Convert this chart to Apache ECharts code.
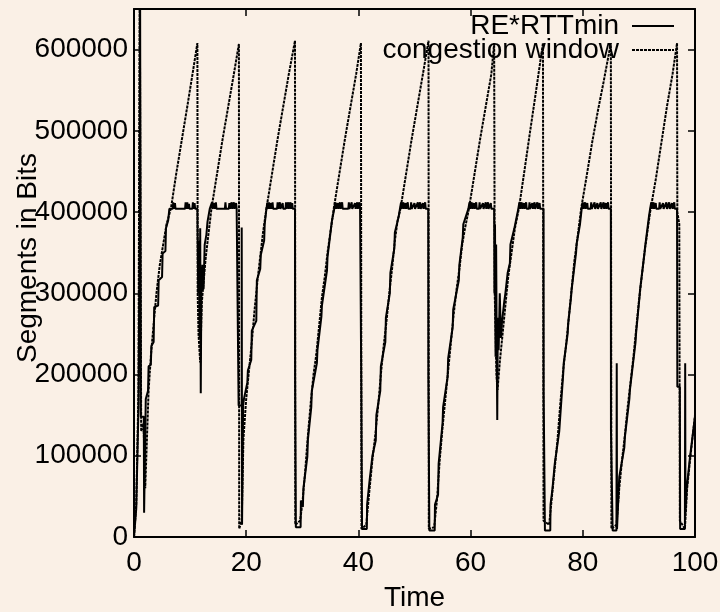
<!DOCTYPE html>
<html>
<head>
<meta charset="utf-8">
<script src="https://cdn.jsdelivr.net/npm/echarts@6/dist/echarts.min.js"></script>
<style>
html,body{margin:0;padding:0;background:#faf0e6;}
#chart{width:720px;height:612px;}
</style>
</head>
<body>
<div id="chart"></div>
<script>
// ---- data ----
const seriesNames = ['RE*RTTmin', 'congestion window'];
const xTicks = [0, 20, 40, 60, 80, 100];
const yTicks = [0, 100000, 200000, 300000, 400000, 500000, 600000];

// RE*RTTmin : [time, bits]
const reRttMin = [
[0,0],[0.4,35000],[0.8,160000],[1.0,380000],[1.08,700000],[1.16,700000],[1.22,148000],[1.75,148000],[1.8,30000],[2.05,30000],[2.1,170000],[2.5,180000],[2.6,210000],[3.0,212000],[3.1,235000],[3.5,240000],[3.6,283000],[4.3,285000],[4.4,316000],[5.0,320000],[5.1,349000],[5.6,352000],[5.7,380000],[6.1,390000],[6.3,404000],
[6.9,404000],[7.0,412000],[7.1,404000],[7.3,411000],[7.4,404000],[9.1,404000],[9.2,412000],[9.3,404000],[9.5,412000],[9.6,404000],[9.8,410000],[9.9,404000],[10.4,404000],[10.5,412000],[10.6,404000],[10.8,411000],[10.9,404000],[11.3,404000],
[11.32,385000],[11.45,300000],[11.55,365000],[11.7,245000],[11.8,380000],[11.9,177000],[12.0,300000],[12.2,335000],[12.4,305000],[12.6,360000],[12.9,372000],[13.1,388000],[13.5,404000],
[13.8,404000],[13.9,412000],[14.0,404000],[14.3,411000],[14.4,404000],[14.6,412000],[14.7,404000],[16.2,404000],[16.3,412000],[16.4,404000],[16.9,404000],[17.0,411000],[17.1,404000],[17.4,412000],[17.5,404000],[17.8,412000],[17.9,404000],[18.2,411000],[18.3,404000],[18.65,404000],
[18.65,162000],[19.2,162000],[19.2,381000],[19.23,381000],[19.26,15000],[19.4,15000],[19.45,162000],[19.6,170000],[20.2,190000],[20.3,205000],[20.9,218000],[21.0,254000],[21.8,266000],[21.9,316000],[22.5,330000],[22.6,347000],[23.2,365000],[23.3,385000],[23.6,404000],
[23.8,412000],[23.9,404000],[24.1,412000],[24.2,404000],[24.4,411000],[24.5,404000],[24.7,412000],[24.8,404000],[25.5,404000],[25.6,412000],[25.7,404000],[26.0,412000],[26.1,404000],[26.5,411000],[26.6,404000],[27.0,404000],[27.1,412000],[27.2,404000],[27.5,412000],[27.6,404000],[27.9,412000],[28.0,404000],[28.2,411000],[28.3,404000],[28.7,404000],
[28.72,197000],[28.8,197000],[28.85,12000],[29.7,12000],[29.75,45000],[30.1,37000],[30.2,60000],[30.9,99000],[31.0,120000],[31.6,160000],[31.7,180000],[32.6,214000],[32.7,230000],[33.4,271000],[33.5,285000],[34.4,328000],[34.5,345000],[35.3,390000],[35.7,404000],
[35.9,412000],[36.0,404000],[36.3,411000],[36.4,404000],[36.7,412000],[36.8,404000],[37.1,412000],[37.2,404000],[38.2,404000],[38.3,412000],[38.4,404000],[38.8,412000],[38.9,404000],[39.4,411000],[39.5,404000],[39.8,412000],[39.9,404000],[40.2,412000],[40.3,404000],[40.5,404000],
[40.52,181000],[40.6,181000],[40.65,10000],[41.5,10000],[41.55,40000],[42.0,70000],[42.5,100000],[43.1,119000],[43.2,150000],[43.9,180000],[44.0,210000],[44.8,240000],[44.9,270000],[45.6,300000],[45.7,325000],[46.4,355000],[46.5,375000],[47.2,395000],[47.4,404000],
[47.6,412000],[47.7,404000],[48.0,412000],[48.1,404000],[48.4,411000],[48.5,404000],[48.8,412000],[48.9,404000],[49.3,404000],[49.4,412000],[49.5,404000],[50.0,411000],[50.1,404000],[50.6,412000],[50.7,404000],[51.0,412000],[51.1,404000],[51.5,411000],[51.6,404000],[51.9,412000],[52.0,404000],[52.45,404000],
[52.47,197000],[52.6,197000],[52.65,8000],[53.6,8000],[53.65,40000],[54.2,52000],[54.3,90000],[55.0,140000],[55.1,160000],[55.9,197000],[56.0,220000],[56.8,258000],[56.9,280000],[57.9,316000],[58.0,335000],[58.6,369000],[58.7,385000],[59.6,404000],
[59.8,412000],[59.9,404000],[60.2,412000],[60.3,404000],[60.6,411000],[60.7,404000],[61.0,412000],[61.1,404000],[61.5,404000],[61.6,412000],[61.7,404000],[62.2,411000],[62.3,404000],[62.7,412000],[62.8,404000],[63.1,412000],[63.2,404000],[63.6,411000],[63.7,404000],[64.2,404000],
[64.25,300000],[64.35,385000],[64.45,222000],[64.55,360000],[64.65,240000],[64.75,144000],[64.85,270000],[65.0,230000],[65.2,300000],[65.4,245000],[65.6,265000],[66.0,290000],[66.2,300000],[66.6,325000],[67.0,337000],[67.1,360000],[67.8,380000],[68.5,404000],
[68.7,412000],[68.8,404000],[69.1,412000],[69.2,404000],[69.5,411000],[69.6,404000],[69.9,412000],[70.0,404000],[70.4,404000],[70.5,412000],[70.6,404000],[71.0,411000],[71.1,404000],[71.4,412000],[71.5,404000],[71.9,412000],[72.0,404000],[72.3,411000],[72.4,404000],[73.0,404000],
[73.02,177000],[73.2,177000],[73.25,8000],[74.2,8000],[74.25,40000],[74.6,60000],[75.0,90000],[75.8,130000],[75.9,140000],[76.5,200000],[76.6,214000],[77.3,250000],[77.4,263000],[77.9,295000],[78.0,304000],[78.8,350000],[78.9,361000],[79.5,385000],[79.8,404000],
[80.0,412000],[80.1,404000],[80.4,412000],[80.5,404000],[80.8,411000],[80.9,404000],[81.4,404000],[81.5,412000],[81.6,404000],[82.1,412000],[82.2,404000],[82.6,411000],[82.7,404000],[83.2,412000],[83.3,404000],[83.7,412000],[83.8,404000],[84.1,411000],[84.2,404000],[84.5,412000],[84.6,404000],[85.0,404000],
[85.02,131000],[85.3,131000],[85.32,8000],[86.0,8000],[86.05,214000],[86.1,10000],[86.5,74000],[87.4,110000],[87.5,123000],[88.3,170000],[88.4,181000],[89.4,240000],[89.5,251000],[90.1,295000],[90.2,304000],[91.0,350000],[91.1,357000],[91.8,395000],[92.0,404000],
[92.2,412000],[92.3,404000],[92.6,412000],[92.7,404000],[93.0,411000],[93.1,404000],[93.6,404000],[93.7,412000],[93.8,404000],[94.3,411000],[94.4,404000],[94.9,412000],[95.0,404000],[95.4,412000],[95.5,404000],[95.9,411000],[96.0,404000],[96.3,412000],[96.4,404000],[96.8,404000],
[96.85,185000],[97.3,185000],[97.35,10000],[98.2,10000],[98.25,214000],[98.3,30000],[98.5,58000],[99.1,98000],[100,148000]
];

// congestion window : [time, bits]
const congestionWindow = [
[0,0],[0.4,40000],[0.8,180000],[1.02,700000],[1.18,700000],[1.28,130000],[1.7,140000],[2.0,60000],[2.3,120000],[2.6,180000],[3.0,222000],[3.5,262000],[4.0,300000],[4.6,335000],[5.2,360000],[5.8,385000],[6.6,405000],[7.5,446000],[8.5,488000],[9.5,530000],[10.5,573000],[11.3,608000],
[11.35,300000],[11.5,250000],[11.8,215000],[12.1,290000],[12.8,345000],[13.8,404000],[14.8,447000],[15.8,490000],[16.8,530000],[17.8,570000],[18.7,607000],
[18.75,10000],[19.2,20000],[19.5,120000],[20.0,170000],[20.5,205000],[21.0,240000],[21.5,280000],[22.0,315000],[22.5,345000],[23.0,375000],[23.6,404000],[24.6,447000],[25.6,490000],[26.6,530000],[27.6,570000],[28.7,611000],
[28.75,15000],[29.6,20000],[30.0,40000],[30.5,80000],[31.0,125000],[31.5,165000],[32.0,200000],[32.5,225000],[33.0,260000],[33.5,295000],[34.0,320000],[34.5,350000],[35.0,375000],[35.6,404000],[36.6,447000],[37.6,490000],[38.6,530000],[39.6,570000],[40.45,608000],
[40.55,10000],[41.4,15000],[42.0,60000],[42.5,95000],[43.0,125000],[43.5,160000],[44.0,200000],[44.5,235000],[45.0,265000],[45.5,300000],[46.0,330000],[46.5,365000],[47.0,390000],[47.5,404000],[48.5,447000],[49.5,490000],[50.5,530000],[51.5,570000],[52.5,611000],
[52.55,10000],[53.5,12000],[54.0,45000],[54.5,95000],[55.0,135000],[55.5,170000],[56.0,205000],[56.5,240000],[57.0,275000],[57.5,305000],[58.0,330000],[58.5,360000],[59.0,380000],[59.7,404000],[60.7,447000],[61.7,490000],[62.7,530000],[63.7,570000],[64.2,608000],
[64.3,300000],[64.6,200000],[64.8,181000],[65.2,215000],[65.7,250000],[66.2,285000],[66.7,320000],[67.3,350000],[67.9,380000],[68.6,404000],[69.6,451000],[70.6,499000],[71.6,546000],[72.9,608000],
[73.0,20000],[74.0,15000],[74.5,50000],[75.0,85000],[75.5,120000],[76.0,165000],[76.5,205000],[77.0,235000],[77.5,270000],[78.0,305000],[78.5,340000],[79.0,365000],[79.7,404000],[80.7,445000],[81.7,487000],[82.7,525000],[83.7,560000],[85.0,608000],
[85.1,10000],[86.0,15000],[86.5,60000],[87.0,95000],[87.5,125000],[88.0,160000],[88.5,190000],[89.0,220000],[89.5,255000],[90.0,290000],[90.5,320000],[91.0,350000],[91.5,375000],[92.0,400000],[93.0,440000],[94.0,485000],[95.0,530000],[96.0,570000],[96.8,608000],
[96.85,400000],[97.2,385000],[97.3,20000],[98.2,10000],[98.6,60000],[99.2,100000],[100,150000]
];

// ---- chart ----
const FONT = "'Liberation Sans', Arial, sans-serif";
const chart = echarts.init(document.getElementById('chart'), null, {renderer: 'canvas'});
const lineAxis = {show: true, onZero: false, lineStyle: {color: '#000', width: 2}};
const tickIn = {show: true, inside: true, length: 7, lineStyle: {color: '#000', width: 1.5}};
const txt = {fontSize: 28, color: '#000', fontFamily: FONT};
const yMax = 650000;

const legendCommon = {
  right: 45, padding: 0, align: 'right', itemWidth: 42, itemHeight: 14,
  itemStyle: {color: 'transparent', borderColor: 'transparent', borderWidth: 0},
  textStyle: Object.assign({padding: [0, 8, 0, 0]}, txt)
};

chart.setOption({
  backgroundColor: '#faf0e6',
  animation: false,
  grid: {left: 134, right: 25, top: 9, bottom: 75, containLabel: false, outerBoundsMode: 'none'},
  legend: [
    Object.assign({data: [seriesNames[0]], top: 12}, legendCommon),
    Object.assign({data: [seriesNames[1]], top: 36}, legendCommon)
  ],
  xAxis: [
    {type: 'value', min: xTicks[0], max: xTicks[xTicks.length - 1], interval: 20, position: 'bottom',
     axisLine: lineAxis, axisTick: tickIn, splitLine: {show: false},
     axisLabel: Object.assign({margin: 12, formatter: v => String(v)}, txt),
     name: 'Time', nameLocation: 'middle', nameGap: 47, nameMoveOverlap: false, nameTextStyle: txt},
    {type: 'value', min: xTicks[0], max: xTicks[xTicks.length - 1], interval: 20, position: 'top',
     axisLine: lineAxis, axisTick: tickIn, splitLine: {show: false}, axisLabel: {show: false}}
  ],
  yAxis: [
    {type: 'value', min: yTicks[0], max: yMax, interval: 100000, position: 'left',
     axisLine: lineAxis, axisTick: tickIn, splitLine: {show: false},
     axisLabel: Object.assign({margin: 6, showMaxLabel: false,
       formatter: v => (yTicks.indexOf(v) >= 0 ? String(v) : '')}, txt),
     name: 'Segments in Bits', nameLocation: 'middle', nameGap: 92, nameRotate: 90, nameMoveOverlap: false,
     nameTextStyle: Object.assign({padding: [0, 0, 0, 30]}, txt)},
    {type: 'value', min: yTicks[0], max: yMax, interval: 100000, position: 'right',
     axisLine: lineAxis, axisTick: tickIn, splitLine: {show: false}, axisLabel: {show: false}}
  ],
  series: [
    {name: seriesNames[0], type: 'line', data: reRttMin, symbol: 'none', showSymbol: false, clip: true,
     lineStyle: {color: '#000', width: 2, type: 'solid'}, itemStyle: {color: '#000'}, z: 3},
    {name: seriesNames[1], type: 'line', data: congestionWindow, symbol: 'none', showSymbol: false, clip: true,
     lineStyle: {color: '#000', width: 2, type: [3, 1]}, itemStyle: {color: '#000'}, z: 4}
  ]
});
</script>
</body>
</html>
